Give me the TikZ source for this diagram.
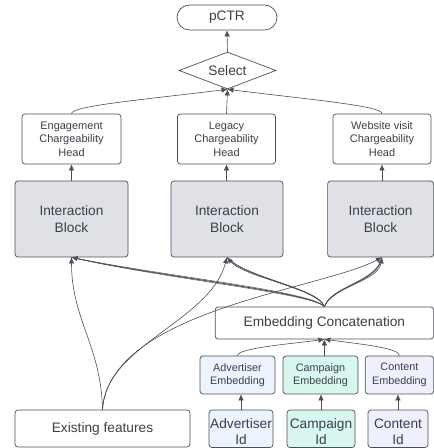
\documentclass[tikz,border=0pt]{standalone}
\usepackage{fontspec}
\setmainfont{Liberation Sans}
\usetikzlibrary{arrows.meta,shapes.geometric}
\definecolor{lncol}{HTML}{4A4F57}
\definecolor{txcol}{HTML}{3A3F48}
\definecolor{blkcol}{HTML}{DFE1E6}
\definecolor{advcol}{HTML}{EDF4FF}
\definecolor{cmpcol}{HTML}{D8F7EF}
\definecolor{cntcol}{HTML}{F0F0FC}
\begin{document}
\begin{tikzpicture}[x=1pt,y=1pt,
 box/.style={draw=lncol, line width=0.7pt, rounded corners=3pt, inner sep=0pt, align=center, text=txcol},
 arr/.style={draw=lncol, line width=0.6pt, -{Latex[length=6pt,width=5.5pt]}},
 lnk/.style={draw=lncol, line width=0.5pt},
 big/.style={font=\fontsize{13.7}{16.5}\selectfont},
 mid/.style={font=\fontsize{11}{13.3}\selectfont},
 sml/.style={font=\fontsize{10.8}{13.3}\selectfont}]
\useasboundingbox (0,0) rectangle (434,448);

\node[box, big, rounded corners=12.5pt, minimum width=100pt, minimum height=25pt] (pctr) at (227,430.5) {pCTR};
\node[draw=lncol, line width=0.7pt, diamond, aspect=2.6, inner sep=0pt, minimum width=97pt, minimum height=37pt, text=txcol, big] (sel) at (227.5,377.5) {Select};

\node[box, mid, minimum width=99pt, minimum height=50pt] (hA) at (71.5,309) {Engagement\\Chargeability\\Head};
\node[box, mid, minimum width=98pt, minimum height=50pt] (hB) at (226.5,309) {Legacy\\Chargeability\\Head};
\node[box, mid, minimum width=98pt, minimum height=50pt] (hC) at (382,309) {Website visit\\Chargeability\\Head};

\node[box, big, fill=blkcol, minimum width=113pt, minimum height=76pt] (bA) at (71.5,229) {Interaction\\Block};
\node[box, big, fill=blkcol, minimum width=112pt, minimum height=76pt] (bB) at (227,229) {Interaction\\Block};
\node[box, big, fill=blkcol, minimum width=106pt, minimum height=76pt] (bC) at (380.6,229) {Interaction\\Block};

\node[box, big, minimum width=218.5pt, minimum height=32pt] (concat) at (324.4,125) {Embedding Concatenation};

\node[box, sml, fill=advcol, minimum width=75pt, minimum height=38pt] (embA) at (237.5,73) {Advertiser\\Embedding};
\node[box, sml, fill=cmpcol, minimum width=75pt, minimum height=38pt] (embB) at (320.5,73) {Campaign\\Embedding};
\node[box, sml, fill=cntcol, minimum width=68.5pt, minimum height=38pt] (embC) at (399.4,73) {Content\\Embedding};

\node[box, big, fill=advcol, minimum width=64pt, minimum height=37.5pt] (idA) at (241,19.2) {\rule{0pt}{16pt}Advertiser\\Id};
\node[box, big, fill=cmpcol, minimum width=68pt, minimum height=37.5pt] (idB) at (321,19.2) {\rule{0pt}{16pt}Campaign\\Id};
\node[box, big, fill=cntcol, minimum width=60pt, minimum height=37.5pt] (idC) at (398,19.2) {\rule{0pt}{16pt}Content\\Id};

\node[box, big, minimum width=175pt, minimum height=37pt] (exist) at (102.5,19.5) {Existing features};

% top part
\draw[arr] (sel.north) -- (pctr.south);
\draw[arr] (hA.north) .. controls (71.5,342) and (140,348) .. (sel.south);
\draw[arr] (hB.north) -- (sel.south);
\draw[arr] (hC.north) .. controls (382,342) and (314,348) .. (sel.south);
\draw[arr] (bA.north) -- (hA.south);
\draw[arr] (bB.north -| hB.south) -- (hB.south);
\draw[arr] (bC.north -| hC.south) -- (hC.south);

% embeddings
\draw[arr] (idA.north) -- (idA.north |- embA.south);
\draw[arr] (idB.north) -- (idB.north |- embB.south);
\draw[arr] (idC.north) -- (idC.north |- embC.south);
\draw[arr] (embA.north) .. controls (237.5,100) and (290,104) .. (concat.south);
\draw[arr] (embB.north -| concat.south) -- (concat.south);
\draw[arr] (embC.north) .. controls (400,100) and (360,104) .. (concat.south);

% concatenation to blocks (three parallel links each)
\foreach \dd in {-1.2,0,1.2} {
  \draw[lnk] (concat.north) .. controls (312,156-\dd) and (160,171-\dd) .. (bA.south);
  \draw[lnk] (concat.north) .. controls (318+\dd,160) and (245+\dd,170) .. (bB.south);
  \draw[lnk] (concat.north) .. controls (332+\dd,162) and (378+\dd,166) .. (bC.south -| hC.south);
}
\draw[arr] (concat.north) .. controls (312,156) and (160,171) .. (bA.south);
\draw[arr] (concat.north) .. controls (318,160) and (245,170) .. (bB.south);
\draw[arr] (concat.north) .. controls (332,162) and (378,166) .. (bC.south -| hC.south);

% existing features to blocks
\draw[arr] (exist.north) .. controls (101,103) and (71.5,128) .. (bA.south);
\draw[arr] (exist.north) .. controls (105,103) and (210,126) .. (bB.south);
\draw[arr] (exist.north) .. controls (110,138) and (320,158) .. (bC.south -| hC.south);
\end{tikzpicture}
\end{document}
